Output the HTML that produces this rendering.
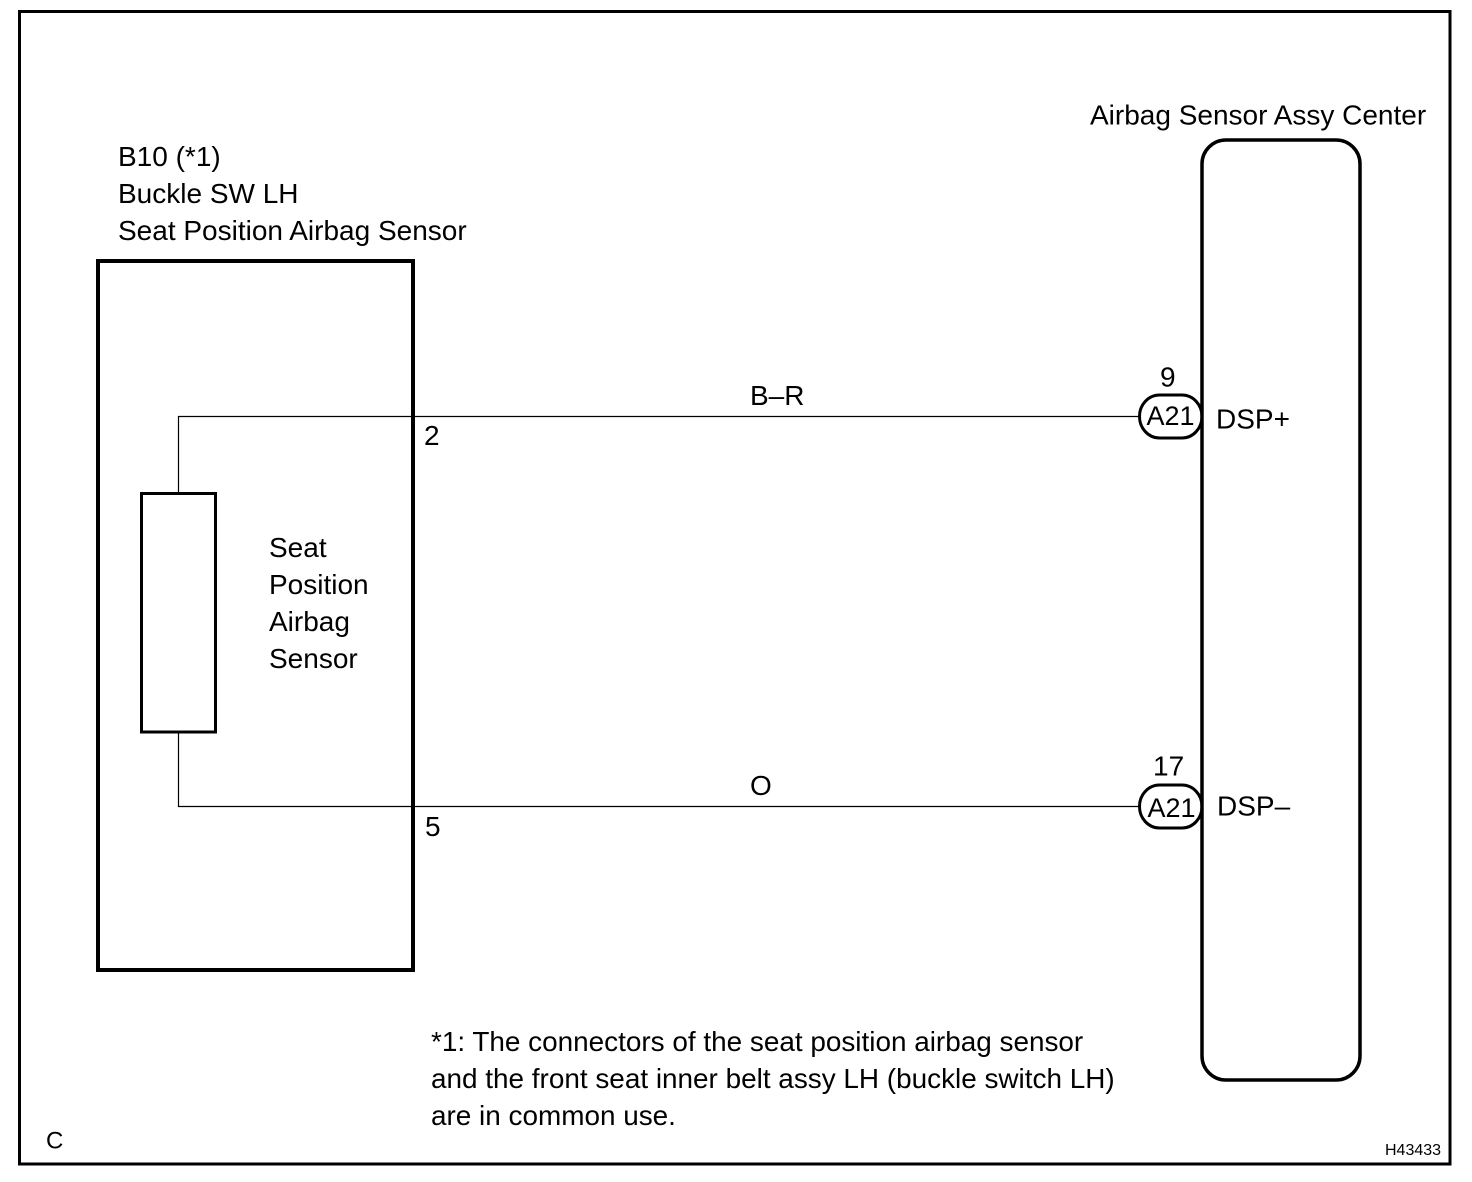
<!DOCTYPE html>
<html>
<head>
<meta charset="utf-8">
<style>
html,body{margin:0;padding:0;background:#fff;}
svg{display:block;}
text{font-family:"Liberation Sans",sans-serif;fill:#000;font-size:28px;}
</style>
</head>
<body>
<svg width="1472" height="1182" viewBox="0 0 1472 1182" xmlns="http://www.w3.org/2000/svg">
<rect x="19.500" y="11.500" width="1430.500" height="1152.500" fill="none" stroke="#000" stroke-width="3"/>
<rect x="98" y="261" width="315" height="709" fill="none" stroke="#000" stroke-width="4"/>
<rect x="141.500" y="493.500" width="74" height="238.500" fill="none" stroke="#000" stroke-width="3"/>
<rect x="1202" y="140" width="158" height="940" rx="24" ry="24" fill="none" stroke="#000" stroke-width="3.500"/>
<path d="M178.500 493V416.500H1139" fill="none" stroke="#000" stroke-width="1.200"/>
<path d="M178.500 732V806.500H1139" fill="none" stroke="#000" stroke-width="1.200"/>
<rect x="1139.500" y="395" width="62.500" height="43" rx="20" ry="21.500" fill="none" stroke="#000" stroke-width="3"/>
<rect x="1139.500" y="785" width="62.500" height="43" rx="20" ry="21.500" fill="none" stroke="#000" stroke-width="3"/>
<text x="1090" y="124.500">Airbag Sensor Assy Center</text>
<text x="118" y="166">B10 (*1)</text>
<text x="118" y="203">Buckle SW LH</text>
<text x="118" y="240">Seat Position Airbag Sensor</text>
<text x="269" y="557">Seat</text>
<text x="269" y="594">Position</text>
<text x="269" y="631">Airbag</text>
<text x="269" y="668">Sensor</text>
<text x="750" y="405">B–R</text>
<text x="750" y="795">O</text>
<text x="424" y="445">2</text>
<text x="425" y="836">5</text>
<text x="1160" y="386.500">9</text>
<text x="1153" y="775.500">17</text>
<text x="1146.500" y="425" style="font-size:27px">A21</text>
<text x="1147.500" y="817" style="font-size:27px">A21</text>
<text x="1216" y="428.500">DSP+</text>
<text x="1217" y="815.500">DSP–</text>
<text x="431" y="1051" style="font-size:27.900px">*1: The connectors of the seat position airbag sensor</text>
<text x="431" y="1088" style="font-size:27.900px">and the front seat inner belt assy LH (buckle switch LH)</text>
<text x="431" y="1125" style="font-size:27.900px">are in common use.</text>
<text x="46" y="1148.500" style="font-size:24px">C</text>
<text x="1385" y="1155" style="font-size:16px">H43433</text>
</svg>
</body>
</html>
